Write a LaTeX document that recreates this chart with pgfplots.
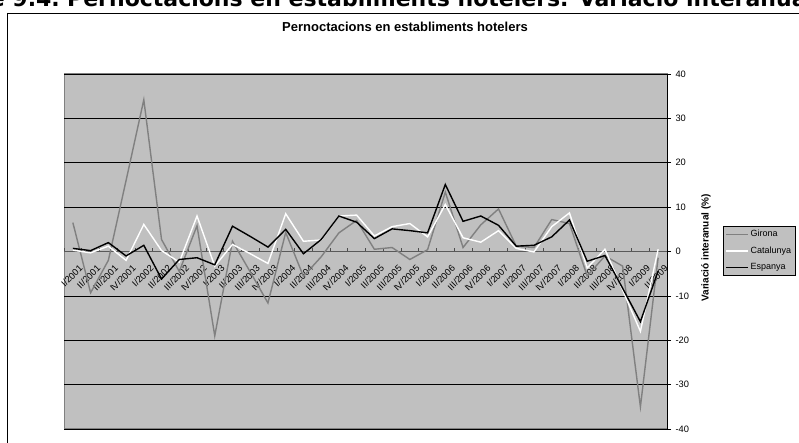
\documentclass[border=0pt]{standalone}
\usepackage{fontspec}
\setmainfont{Liberation Sans}
\newfontfamily\djv{DejaVu Sans}
\usepackage{pgfplots}
\pgfplotsset{compat=1.18}
\definecolor{plotbg}{HTML}{C0C0C0}
\definecolor{gir}{HTML}{808080}
\begin{document}
\begin{tikzpicture}[x=1pt,y=1pt]
\useasboundingbox (0,0) rectangle (799,443);
% outer chart frame (extends beyond the page on right and bottom)
\draw[black, line width=0.8pt] (7,430) -- (830,430);
\draw[black, line width=0.8pt] (7,430) -- (7,-20);
% clipped document caption
\node[anchor=base west, inner sep=0pt, font=\djv\bfseries\fontsize{22}{24}\selectfont] at (67,436) {Pernoctacions en establiments hotelers. Variació interanual};
\node[anchor=base east, inner sep=0pt, font=\djv\bfseries\fontsize{22}{24}\selectfont] at (60,436) {Figure 9.4.};
\begin{axis}[
  at={(64pt,14pt)}, anchor=south west,
  scale only axis, width=603pt, height=355pt,
  xmin=-0.5, xmax=33.5, ymin=-40, ymax=40,
  axis x line*=middle, axis y line*=right,
  axis background/.style={fill=plotbg, draw=gir, line width=1pt},
  x axis line style={draw=black!65, line width=1pt},
  y axis line style={draw=black, line width=0.8pt},
  ytick={-40,-30,...,40},
  ymajorgrids, grid style={black, line width=0.7pt},
  ytick align=outside, major tick length=4pt,
  y tick style={black, line width=0.6pt},
  yticklabel style={anchor=west, font=\fontsize{9.3}{10}\selectfont, xshift=1pt},
  /pgf/number format/assume math mode=true,
  xtick={0,...,33},
  xticklabels={I/2001,II/2001,III/2001,IV/2001,I/2002,II/2002,III/2002,IV/2002,I/2003,II/2003,III/2003,IV/2003,I/2004,II/2004,III/2004,IV/2004,I/2005,II/2005,III/2005,IV/2005,I/2006,II/2006,III/2006,IV/2006,I/2007,II/2007,III/2007,IV/2007,I/2008,II/2008,III/2008,IV/2008,I/2009,II/2009},
  major x tick style={draw=none},
  minor xtick={-0.5,0.5,...,33.5},
  minor tick length=3pt, xtick align=inside,
  minor x tick style={black!70, line width=0.6pt},
  xticklabel style={rotate=45, anchor=north east, font=\fontsize{9.3}{10}\selectfont, inner sep=1pt, yshift=-12pt, xshift=-4pt},
  title={Pernoctacions en establiments hotelers},
  title style={at={(axis description cs:0.5655,1.1155)}, anchor=center, yshift=0pt, font=\bfseries\fontsize{13}{15}\selectfont},
  ylabel={Variació interanual (\%)},
  ylabel style={at={(axis description cs:1.0647,0.51)}, anchor=center, font=\bfseries\fontsize{10}{12}\selectfont},
  legend style={at={(axis description cs:1.0929,0.502)}, anchor=west, fill=plotbg, draw=black, line width=0.6pt, font=\fontsize{9}{10}\selectfont, inner xsep=2pt, inner ysep=2pt, row sep=4.5pt},
  legend cell align=left,
  legend image code/.code={\draw[#1] (0pt,0pt) -- (22pt,0pt);},
]
\addplot[gir, line width=1.4pt] coordinates {
(0,6.5) (1,-9.3) (2,-2.0) (3,16.0) (4,34.2) (5,2.7) (6,-4.5) (7,5.8) (8,-19.0) (9,2.3)
(10,-4.6) (11,-11.6) (12,4.3) (13,-5.6) (14,-1.2) (15,4.2) (16,7.0) (17,0.5) (18,0.9) (19,-1.8)
(20,0.4) (21,13.4) (22,0.9) (23,6.0) (24,9.6) (25,1.2) (26,0.9) (27,7.2) (28,6.3) (29,-5.5)
(30,-1.0) (31,-3.3) (32,-35.0) (33,-1.4)};
\addlegendentry{Girona}
\addplot[white, line width=1.4pt] coordinates {
(0,0.3) (1,-0.3) (2,1.2) (3,-2.0) (4,6.1) (5,0.2) (6,-2.4) (7,8.0) (8,-3.3) (9,1.6)
(10,-0.5) (11,-2.7) (12,8.5) (13,2.3) (14,2.6) (15,8.0) (16,8.2) (17,3.5) (18,5.6) (19,6.3)
(20,3.3) (21,10.6) (22,3.1) (23,2.1) (24,4.7) (25,0.7) (26,-0.1) (27,5.6) (28,8.7) (29,-3.7)
(30,0.5) (31,-8.7) (32,-18.0) (33,0.5)};
\addlegendentry{Catalunya}
\addplot[black, line width=1.4pt] coordinates {
(0,0.7) (1,0.2) (2,2.0) (3,-1.0) (4,1.4) (5,-6.2) (6,-1.8) (7,-1.4) (8,-3.0) (9,5.7)
(10,3.4) (11,1.0) (12,5.0) (13,-0.5) (14,2.7) (15,8.0) (16,6.6) (17,2.9) (18,5.1) (19,4.7)
(20,4.2) (21,15.1) (22,6.8) (23,8.0) (24,5.9) (25,1.2) (26,1.4) (27,3.3) (28,7.1) (29,-2.2)
(30,-0.9) (31,-8.3) (32,-15.8) (33,-4.4)};
\addlegendentry{Espanya}
\end{axis}
\end{tikzpicture}
\end{document}
